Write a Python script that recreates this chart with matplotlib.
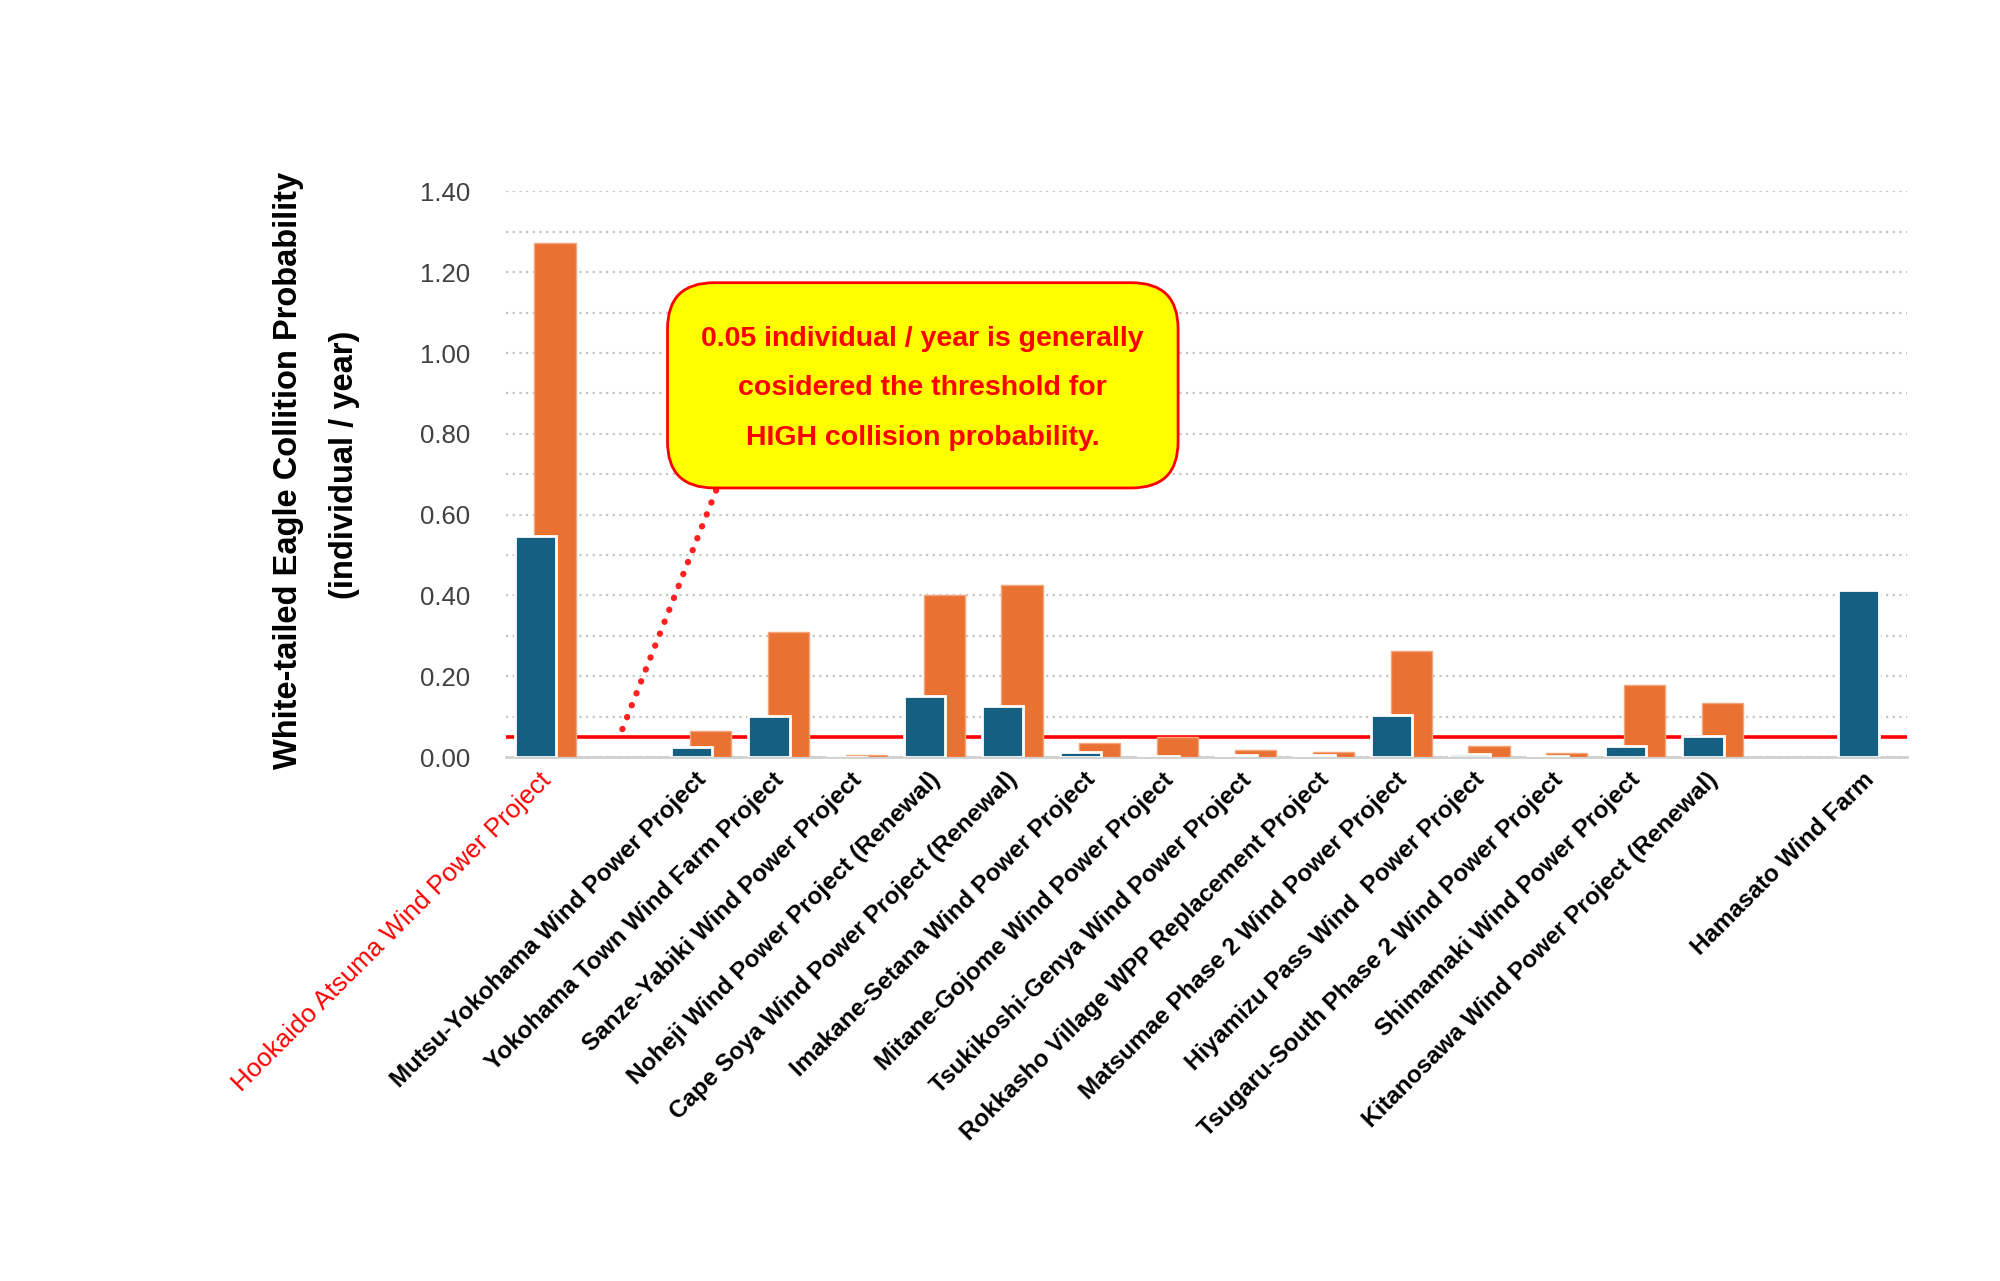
import numpy as np
import matplotlib
matplotlib.use("Agg")
import matplotlib.pyplot as plt
import matplotlib.transforms as mtransforms
from matplotlib.patches import FancyBboxPatch

# data
projects = ["Hookaido Atsuma Wind Power Project", "",
            "Mutsu-Yokohama Wind Power Project",
            "Yokohama Town Wind Farm Project",
            "Sanze-Yabiki Wind Power Project",
            "Noheji Wind Power Project (Renewal)",
            "Cape Soya Wind Power Project (Renewal)",
            "Imakane-Setana Wind Power Project",
            "Mitane-Gojome Wind Power Project",
            "Tsukikoshi-Genya Wind Power Project",
            "Rokkasho Village WPP Replacement Project",
            "Matsumae Phase 2 Wind Power Project",
            "Hiyamizu Pass Wind  Power Project",
            "Tsugaru-South Phase 2 Wind Power Project",
            "Shimamaki Wind Power Project",
            "Kitanosawa Wind Power Project (Renewal)", "",
            "Hamasato Wind Farm"]
blue_vals = [0.546, np.nan, 0.026, 0.102, 0.0, 0.150, 0.126, 0.012, 0.003,
             0.004, 0.005, 0.104, 0.007, 0.002, 0.028, 0.053, np.nan, 0.414]
orange_vals = [1.272, np.nan, 0.064, 0.310, 0.004, 0.402, 0.425, 0.035, 0.050,
               0.017, 0.013, 0.262, 0.028, 0.011, 0.179, 0.134, np.nan, np.nan]
THRESHOLD = 0.05
callout = "0.05 individual / year is generally\ncosidered the threshold for\nHIGH collision probability."

BLUE = "#156082"
ORANGE = "#E97132"

plt.rcParams['font.family'] = ['Liberation Sans', 'DejaVu Sans']

fig = plt.figure(figsize=(20, 12.81), dpi=100)
ax = fig.add_axes([0.253, 0.409, 0.7005, 0.4416])

x = np.arange(len(projects))
ax.bar(x + 0.13, orange_vals, width=0.53, color=ORANGE, edgecolor="#f4a57a",
       linewidth=1, zorder=3)
ax.bar(x - 0.12, blue_vals, width=0.53, color=BLUE, edgecolor="white",
       linewidth=2, zorder=4)
ax.axhline(THRESHOLD, color="#ff0000", lw=2.6, zorder=2)

ax.set_xlim(-0.5, len(projects) - 0.5)
ax.set_ylim(0, 1.4)
ax.set_yticks(np.arange(0, 1.41, 0.2))
ax.set_yticks(np.arange(0, 1.41, 0.1), minor=True)
ax.set_yticklabels(["%.2f" % v for v in np.arange(0, 1.41, 0.2)],
                   fontsize=18.5, color="#404040")
ax.grid(axis="y", which="both", color="#c4c4c4", linestyle=(0, (1, 2)), lw=1.6, zorder=0)
ax.set_axisbelow(True)
ax.tick_params(axis="y", which="both", length=0, pad=26)
ax.tick_params(axis="x", length=0, pad=8)

ax.set_xticks(x)
ax.set_xticklabels(projects, rotation=45, ha="right", rotation_mode="anchor",
                   fontsize=17.5, fontweight="bold")
shift = mtransforms.ScaledTranslation(-6 / 100, 0, fig.dpi_scale_trans)
for lab in ax.get_xticklabels():
    lab.set_transform(lab.get_transform() + shift)
ax.get_xticklabels()[0].set_color("#ff0000")
ax.get_xticklabels()[0].set_fontweight("normal")
ax.get_xticklabels()[0].set_fontsize(18.7)

for s in ["top", "right", "left"]:
    ax.spines[s].set_visible(False)
ax.spines["bottom"].set_color("#d0d0d0")
ax.spines["bottom"].set_linewidth(2)

# y axis title, two lines
fig.text(0.144, 0.633, "White-tailed Eagle Collition Probability", rotation=90,
         ha="center", va="center", fontsize=23.5, fontweight="bold")
fig.text(0.172, 0.637, "(individual / year)", rotation=90,
         ha="center", va="center", fontsize=23.5, fontweight="bold")

# callout box with dotted pointer
ax.plot([2.2, 0.95], [0.66, 0.047], color="#ff2020", lw=4.5,
        linestyle=(0, (0.05, 2.0)), dash_capstyle="round", zorder=5)
box = FancyBboxPatch((1.575, 0.666), 8.135 - 1.575, 1.174 - 0.666,
                     boxstyle="round,pad=0,rounding_size=0.6",
                     mutation_aspect=0.19, facecolor="#ffff00",
                     edgecolor="#ff0000", lw=2, zorder=6)
ax.add_patch(box)
for i, line in enumerate(callout.split("\n")):
    ax.text(4.85, 1.035 - i * 0.1225, line, ha="center", va="center",
            fontsize=20.5, fontweight="bold", color="#ff0000", zorder=7)

fig.savefig("out.png", dpi=100)
